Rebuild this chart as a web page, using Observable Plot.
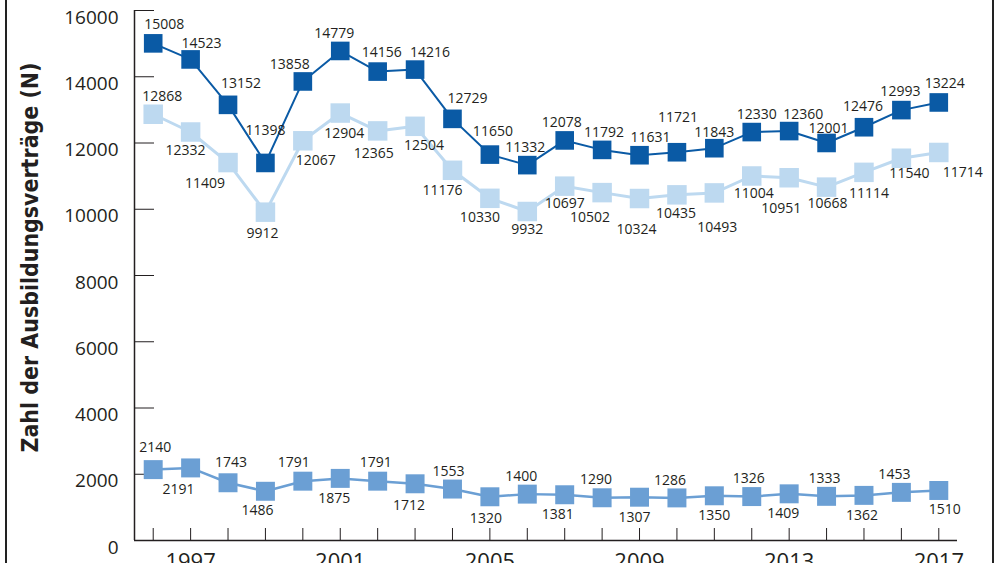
<!DOCTYPE html>
<html>
<head>
<meta charset="utf-8">
<script src="https://cdn.jsdelivr.net/npm/d3@7"></script>
<script src="https://cdn.jsdelivr.net/npm/@observablehq/plot@0.6"></script>
<style>
  html, body { margin: 0; padding: 0; background: #fff; overflow: hidden; }
  #wrap { position: relative; width: 1000px; height: 563px; }
  .edge { position: absolute; top: 0; width: 2px; height: 563px; background: #222; }
</style>
</head>
<body>
<div id="wrap">
  <div class="edge" style="left:5px"></div>
  <div class="edge" style="left:992px"></div>
</div>
<script>
// ---- data ----
const years = [1996, 1997, 1998, 1999, 2000, 2001, 2002, 2003, 2004, 2005, 2006,
               2007, 2008, 2009, 2010, 2011, 2012, 2013, 2014, 2015, 2016, 2017];
const totalValues = [15008, 14523, 13152, 11398, 13858, 14779, 14156, 14216, 12729, 11650, 11332,
                     12078, 11792, 11631, 11721, 11843, 12330, 12360, 12001, 12476, 12993, 13224];
const groupAValues = [12868, 12332, 11409, 9912, 12067, 12904, 12365, 12504, 11176, 10330, 9932,
                      10697, 10502, 10324, 10435, 10493, 11004, 10951, 10668, 11114, 11540, 11714];
const groupBValues = [2140, 2191, 1743, 1486, 1791, 1875, 1791, 1712, 1553, 1320, 1400,
                      1381, 1290, 1307, 1286, 1350, 1326, 1409, 1333, 1362, 1453, 1510];
const yTicks = [0, 2000, 4000, 6000, 8000, 10000, 12000, 14000, 16000];
const yearTickLabels = [1997, 2001, 2005, 2009, 2013, 2017];
const yTitle = "Zahl der Ausbildungsverträge (N)";

// ---- label placement (pixel offsets, layout only) ----
const totalLabelDx = [11, 11, 13, 0, -13, -6, 4, 15, 15, 3, -2, -3, 2, 11, 1, 0, 5, 14, 2, -1, -1, 6];
const totalLabelDy = [-19, -16, -21, -32, -17, -17, -19, -17, -20, -23, -18, -18, -17, -18, -35, -16, -18, -17, -14, -21, -19, -19];
const groupALabelDx = [9, -5, -23, -3, 13, 4, -4, 9, -10, -10, 0, 0, -12, -3, -1, 3, 2, -8, 1, 5, 8, 24];
const groupALabelDy = [-18, 19, 21, 21, 20, 20, 23, 19, 20, 19, 18, 17, 25, 31, 19, 35, 18, 31, 16, 21, 15, 20];
const groupBLabelDx = [2, -12, 3, -8, -9, -6, -2, -6, -4, -4, -6, -7, -6, -5, -7, 0, -3, -6, -2, -2, -7, 6];
const groupBLabelDy = [-22, 22, -20, 19, -19, 20, -19, 22, -18, 22, -18, 20, -18, 20, -17, 20, -18, 20, -18, 20, -18, 19];

// ---- styles ----
const colors = {total: "#0a5aa5", groupA: "#bdd9f0", groupB: "#6b9fd4"};
const ink = "#231f20";
const xDomain = [1995.5, 2017.5];

const mk = (vals, key, dxs, dys) => vals.map((v, i) => ({year: years[i], value: v, series: key, dx: dxs[i], dy: dys[i]}));
const totalRows = mk(totalValues, "total", totalLabelDx, totalLabelDy);
const groupARows = mk(groupAValues, "groupA", groupALabelDx, groupALabelDy);
const groupBRows = mk(groupBValues, "groupB", groupBLabelDx, groupBLabelDy);
const allRows = [...groupARows, ...groupBRows, ...totalRows];

const labelMarks = allRows.map(d => Plot.text([d], {
  x: "year", y: "value", text: d => String(d.value),
  dx: d.dx, dy: d.dy, fontSize: 14, fill: ink
}));

const chart = Plot.plot({
  width: 1000,
  height: 563,
  marginLeft: 134,
  marginRight: 43,
  marginTop: 10,
  marginBottom: 23,
  style: {fontFamily: "'Open Sans', 'Noto Sans', sans-serif", color: ink, background: "transparent"},
  x: {domain: xDomain, axis: null},
  y: {domain: [0, 16000], axis: null},
  marks: [
    Plot.axisY({ticks: yTicks, tickSize: 0, tickPadding: 16, dy: 7, fontSize: 19, label: null, fill: ink, tickFormat: d => String(d)}),
    Plot.axisY({ticks: yTicks, tickSize: -20, tickFormat: () => "", label: null, stroke: ink}),
    Plot.axisX({ticks: years, tickSize: -12, tickFormat: () => "", label: null, stroke: ink}),
    Plot.axisX({ticks: yearTickLabels, tickSize: 0, tickPadding: 13, fontSize: 22, label: null, tickFormat: d => String(d), fill: ink}),
    Plot.ruleY([0], {stroke: ink, strokeWidth: 1.5}),
    Plot.ruleX([xDomain[0]], {stroke: ink, strokeWidth: 1.5}),
    Plot.line(groupARows, {x: "year", y: "value", stroke: colors.groupA, strokeWidth: 3}),
    Plot.dot(groupARows, {x: "year", y: "value", symbol: "square", r: 11, fill: colors.groupA}),
    Plot.line(groupBRows, {x: "year", y: "value", stroke: colors.groupB, strokeWidth: 2.5}),
    Plot.dot(groupBRows, {x: "year", y: "value", symbol: "square", r: 10.7, fill: colors.groupB}),
    Plot.line(totalRows, {x: "year", y: "value", stroke: colors.total, strokeWidth: 2}),
    Plot.dot(totalRows, {x: "year", y: "value", symbol: "square", r: 10.5, fill: colors.total}),
    ...labelMarks,
    Plot.text([yTitle], {frameAnchor: "left", textAnchor: "middle", rotate: -90, dx: -104, dy: -18, fontSize: 25, fontWeight: "bold", fill: ink, className: "ytitle",
      fontFamily: "'Liberation Sans Narrow', 'DejaVu Sans Condensed', 'Open Sans', sans-serif"})
  ]
});
chart.style.position = "absolute";
chart.style.left = "0px";
chart.style.top = "0px";
document.getElementById("wrap").prepend(chart);

// fit the rotated title to the reference length by adjusting its font size
const t = chart.querySelector(".ytitle text");
if (t && t.getComputedTextLength) {
  const len = t.getComputedTextLength();
  if (len > 0) {
    const fs = Math.min(30, 25 * 390 / len);
    t.setAttribute("font-size", fs.toFixed(1));
    t.style.fontSize = fs.toFixed(1) + "px";
  }
}
</script>
</body>
</html>
